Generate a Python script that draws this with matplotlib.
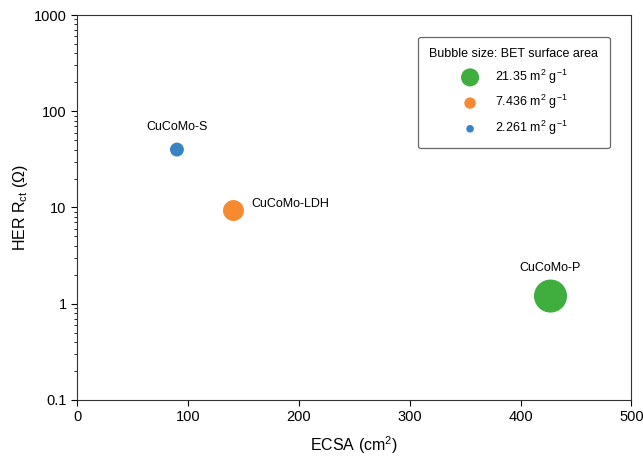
import numpy as np
import matplotlib.pyplot as plt
from matplotlib.ticker import LogLocator, NullFormatter

plt.rcParams['font.family'] = ['Liberation Sans', 'DejaVu Sans']
plt.rcParams['mathtext.fontset'] = 'custom'
plt.rcParams['mathtext.rm'] = 'Liberation Sans'
plt.rcParams['mathtext.it'] = 'Liberation Sans'

# ECSA vs HER charge-transfer resistance, bubble area from BET
samples = ["CuCoMo-S", "CuCoMo-LDH", "CuCoMo-P"]
ecsa = [90, 141, 427]
rct = [40, 9.3, 1.2]
bet = [2.261, 7.436, 21.35]
colors = ["#3a83c1", "#f78a30", "#3fae3f"]
bet_labels = ["2.261 m$^{2}$ g$^{\\mathrm{-1}}$", "7.436 m$^{2}$ g$^{\\mathrm{-1}}$",
              "21.35 m$^{2}$ g$^{\\mathrm{-1}}$"]

def bubble_size(b):
    return 45 + 24.4 * np.asarray(b)

fig = plt.figure(figsize=(6.43, 4.57), dpi=100)
ax = fig.add_axes([0.12, 0.125, 0.862, 0.842])

ax.scatter(ecsa, rct, s=bubble_size(bet), c=colors, edgecolors='none', zorder=3)

# sample names above / beside each bubble
offsets = [(0, 12, 'center'), (13, 5, 'left'), (0, 16, 'center')]
for name, x, y, (dx, dy, ha) in zip(samples, ecsa, rct, offsets):
    ax.annotate(name, (x, y), xytext=(dx, dy), textcoords='offset points',
                ha=ha, va='bottom' if dy > 8 else 'center', fontsize=9)

ax.set_yscale('log')
ax.set_xlim(0, 500)
ax.set_ylim(0.1, 1000)
ax.set_xticks([0, 100, 200, 300, 400, 500])
ax.set_yticks([0.1, 1, 10, 100, 1000])
ax.set_yticklabels(["0.1", "1", "10", "100", "1000"])
ax.yaxis.set_minor_locator(LogLocator(base=10, subs=np.arange(2, 10)))
ax.yaxis.set_minor_formatter(NullFormatter())
ax.tick_params(axis='both', which='major', direction='out', length=4, width=0.8, labelsize=10.5)
ax.tick_params(axis='y', which='minor', direction='out', length=2, width=0.6)
for sp in ax.spines.values():
    sp.set_linewidth(0.8)
    sp.set_color('#333333')

ax.set_xlabel("ECSA (cm$^{2}$)", fontsize=11.5, labelpad=7)
ax.set_ylabel("HER R$_{\\mathrm{ct}}$ (Ω)", fontsize=11.5, labelpad=3)

# legend: largest bubble first
handles = []
for b, c, lab in sorted(zip(bet, colors, bet_labels), reverse=True):
    handles.append(ax.scatter([], [], s=bubble_size(b) * 0.3, c=c, edgecolors='none', label=lab))
leg = ax.legend(handles=handles, title="Bubble size: BET surface area", loc='upper right',
                bbox_to_anchor=(0.972, 0.96), fontsize=9, title_fontsize=9,
                frameon=True, fancybox=True, edgecolor='#444444', borderpad=0.9,
                labelspacing=0.6, handletextpad=1.2, handlelength=1.6, scatterpoints=1)
leg.get_frame().set_linewidth(0.9)
leg._legend_box.align = "center"

fig.savefig("out.png", dpi=100)
